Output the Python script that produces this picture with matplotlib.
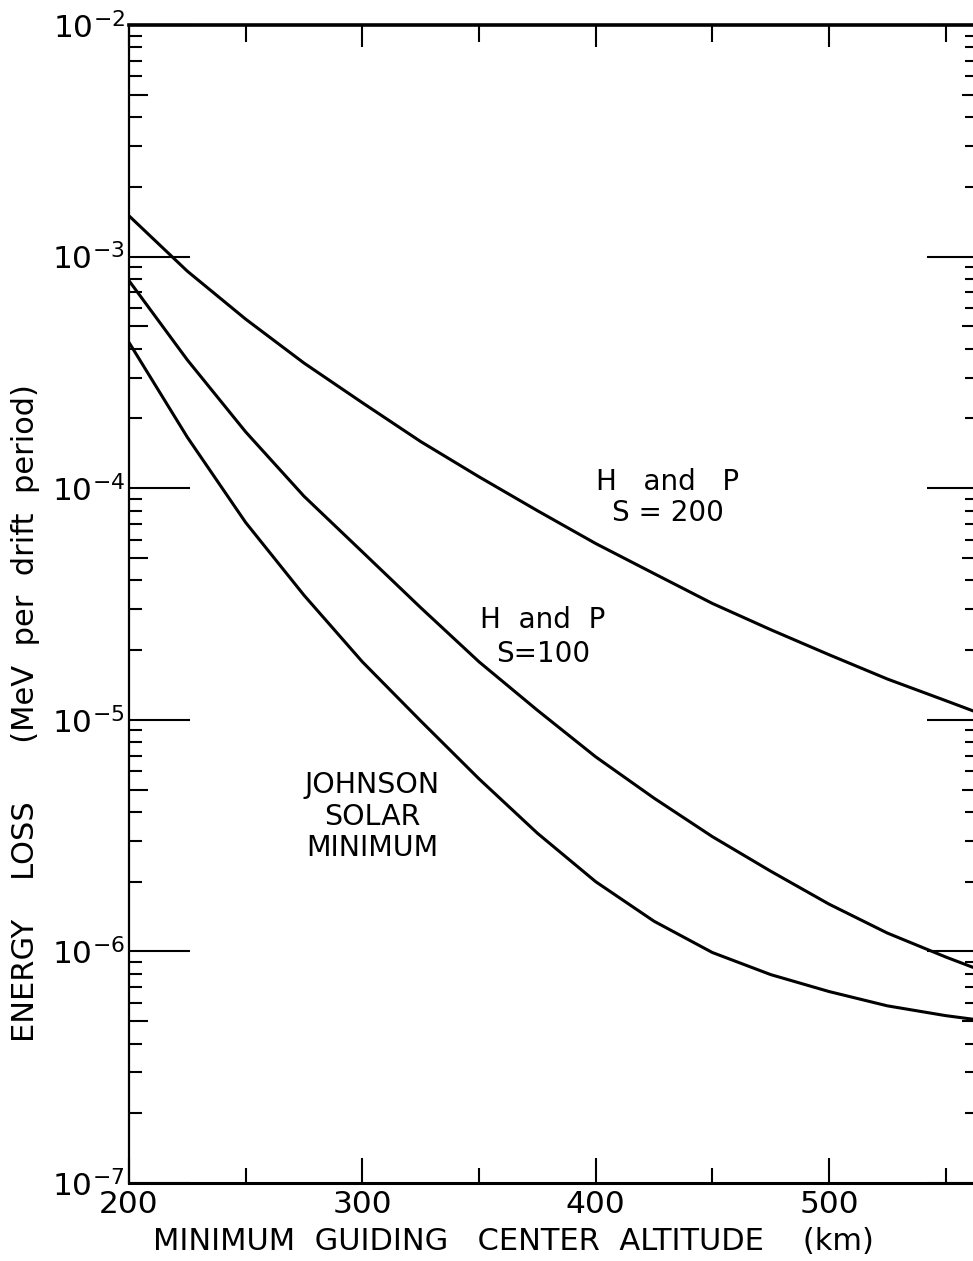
import matplotlib
matplotlib.use("Agg")
import matplotlib.pyplot as plt
import matplotlib.ticker as mticker
import numpy as np

plt.rcParams['font.family'] = ['DejaVu Sans']

# altitude (km) and energy loss (MeV per drift period)
altitude = [200, 225, 250, 275, 300, 325, 350, 375, 400, 425, 450, 475, 500, 525, 550, 562]
s200 = [1.50e-3, 8.65e-4, 5.37e-4, 3.47e-4, 2.34e-4, 1.59e-4, 1.12e-4, 8.0e-5,
        5.77e-5, 4.28e-5, 3.18e-5, 2.45e-5, 1.91e-5, 1.50e-5, 1.21e-5, 1.09e-5]
s100 = [7.87e-4, 3.58e-4, 1.75e-4, 9.23e-5, 5.31e-5, 3.05e-5, 1.78e-5, 1.10e-5,
        6.92e-6, 4.59e-6, 3.13e-6, 2.22e-6, 1.60e-6, 1.20e-6, 9.46e-7, 8.51e-7]
johnson = [4.26e-4, 1.66e-4, 7.11e-5, 3.45e-5, 1.78e-5, 9.89e-6, 5.56e-6, 3.24e-6,
           2.0e-6, 1.35e-6, 9.89e-7, 7.94e-7, 6.71e-7, 5.82e-7, 5.28e-7, 5.09e-7]

x_ticks = [200, 250, 300, 350, 400, 450, 500, 550]
x_labels = ['200', '', '300', '', '400', '', '500', '']
decades = [-7, -6, -5, -4, -3, -2]

fig = plt.figure(figsize=(9.73, 12.61), dpi=100)
ax = fig.add_axes([129 / 973, 1 - 1183 / 1261, 1 - 129 / 973, (1183 - 25) / 1261])

for ys in (s200, s100, johnson):
    ax.plot(altitude, ys, color='black', lw=2.2, solid_capstyle='round',
            solid_joinstyle='round')

ax.set_yscale('log')
ax.set_xlim(200, 561.7)
ax.set_ylim(1e-7, 1e-2)

# y ticks: decades plus the 5x marks as "major", lengths adjusted below
ymaj = []
ylab = []
for d in decades:
    ymaj.append(10.0 ** d)
    ylab.append(r'$10^{%d}$' % d)
    if d < -2:
        ymaj.append(5 * 10.0 ** d)
        ylab.append('')
ax.set_yticks(ymaj, ylab)
ax.yaxis.set_minor_locator(mticker.LogLocator(base=10, subs=[2, 3, 4, 6, 7, 8, 9], numticks=20))
ax.yaxis.set_minor_formatter(mticker.NullFormatter())
ax.set_xticks(x_ticks, x_labels)

ax.tick_params(axis='both', which='both', direction='in', width=1.5,
               top=True, right=True, labelsize=22.5, color='black')
ax.tick_params(axis='y', which='major', pad=3)
ax.tick_params(axis='x', which='major', pad=5)
ax.yaxis.set_tick_params(which='minor', right=True)

for tick in ax.yaxis.get_minor_ticks():
    tick.tick1line.set_markersize(9.5)
    tick.tick2line.set_markersize(6)

for tick, val in zip(ax.yaxis.get_major_ticks(len(ymaj)), ymaj):
    is_dec = abs(np.log10(val) - round(np.log10(val))) < 1e-6
    tick.tick1line.set_markersize(44 if is_dec else 14)
    tick.tick2line.set_markersize(33 if is_dec else 8)

for tick, val in zip(ax.xaxis.get_major_ticks(len(x_ticks)), x_ticks):
    big = val % 100 == 0
    tick.tick1line.set_markersize(18 if big else 11)
    tick.tick2line.set_markersize(16 if big else 12)

ax.spines['top'].set_linewidth(2.6)
ax.spines['bottom'].set_linewidth(2.2)
ax.spines['left'].set_linewidth(1.6)
ax.spines['right'].set_visible(False)

# curve labels
ax.text(431.0, 9.1e-5, 'H   and   P\nS = 200', ha='center', va='center',
        fontsize=20, linespacing=1.15)
ax.text(377.5, 2.28e-5, 'H  and  P\nS=100', ha='center', va='center',
        fontsize=20, linespacing=1.3)
ax.text(304.2, 3.82e-6, 'JOHNSON\nSOLAR\nMINIMUM', ha='center', va='center',
        fontsize=20.5, linespacing=1.15)

fig.text(513 / 973, 1 - 1241 / 1261, 'MINIMUM  GUIDING   CENTER  ALTITUDE    (km)',
         ha='center', va='center', fontsize=22)
fig.text(26 / 973, 1 - 713 / 1261, 'ENERGY    LOSS      (MeV  per  drift  period)',
         ha='center', va='center', rotation=90, fontsize=22)

fig.savefig('out.png', dpi=100)
